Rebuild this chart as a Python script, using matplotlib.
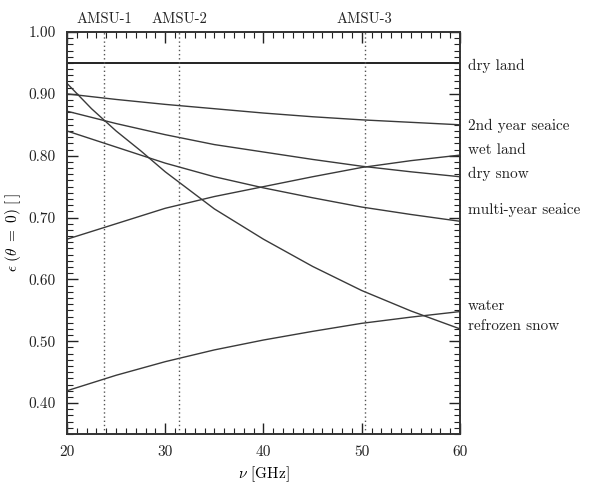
import matplotlib
matplotlib.use("Agg")
import matplotlib.pyplot as plt
from matplotlib.ticker import MultipleLocator
import matplotlib.transforms as mtransforms

# frequencies [GHz] and emissivities
freq = [20, 25, 30, 35, 40, 45, 50, 55, 60]
dry_land = [0.950, 0.950, 0.950, 0.950, 0.950, 0.950, 0.950, 0.950, 0.950]
seaice_2nd = [0.900, 0.891, 0.883, 0.876, 0.869, 0.863, 0.858, 0.854, 0.850]
wet_land = [0.665, 0.690, 0.715, 0.734, 0.750, 0.766, 0.781, 0.792, 0.801]
dry_snow = [0.872, 0.852, 0.834, 0.818, 0.806, 0.794, 0.783, 0.774, 0.766]
seaice_multi = [0.840, 0.814, 0.788, 0.766, 0.748, 0.732, 0.717, 0.705, 0.694]
water = [0.420, 0.445, 0.467, 0.486, 0.502, 0.516, 0.529, 0.539, 0.548]

# refrozen snow bends more, so read at a few extra points
freq_rs = [20, 22.5, 25, 27.5, 30, 35, 40, 45, 50, 55, 60]
refrozen_snow = [0.917, 0.876, 0.840, 0.808, 0.774, 0.714, 0.665, 0.621, 0.582, 0.549, 0.520]

names = ["dry land", "2nd year seaice", "wet land", "dry snow",
         "multi-year seaice", "water", "refrozen snow"]
label_pos = [0.945, 0.848, 0.809, 0.771, 0.712, 0.557, 0.525]

amsu_freq = [23.8, 31.4, 50.3]
amsu_names = ["AMSU-1", "AMSU-2", "AMSU-3"]

xticks = [20, 30, 40, 50, 60]
yticks = [0.40, 0.50, 0.60, 0.70, 0.80, 0.90, 1.00]

plt.rcParams["font.family"] = ["cmr10", "DejaVu Serif"]
plt.rcParams["mathtext.fontset"] = "cm"
plt.rcParams["axes.formatter.use_mathtext"] = True

fig = plt.figure(figsize=(5.97, 4.83), dpi=100)
ax = fig.add_axes([0.1122, 0.1014, 0.6583, 0.8323])

series = [(freq, dry_land), (freq, seaice_2nd), (freq, wet_land), (freq, dry_snow),
          (freq, seaice_multi), (freq, water), (freq_rs, refrozen_snow)]
for i, (x, s) in enumerate(series):
    if i == 0:
        ax.plot(x, s, color="#222222", lw=1.4)
    else:
        ax.plot(x, s, color="#3a3a3a", lw=1.0)
    ax.text(60.8, label_pos[i], names[i], fontsize=11, va="center", ha="left",
            color="#222222", clip_on=False)

trans = mtransforms.blended_transform_factory(ax.transData, ax.transAxes)
for f, n in zip(amsu_freq, amsu_names):
    ax.axvline(f, color="#555555", lw=1.0, ls=(0, (1, 2)))
    ax.text(f, 1.015, n, transform=trans, ha="center", va="bottom",
            fontsize=10.5, color="#222222")

ax.set_xlim(20, 60)
ax.set_ylim(0.35, 1.00)
ax.set_xticks(xticks)
ax.set_xticklabels([str(t) for t in xticks])
ax.xaxis.set_minor_locator(MultipleLocator(1))
ax.set_yticks(yticks)
ax.set_yticklabels(["%.2f" % t for t in yticks])
ax.yaxis.set_minor_locator(MultipleLocator(0.01))
ax.tick_params(which="both", direction="in", top=True, right=True,
               labelsize=11, colors="#222222")
ax.tick_params(which="major", length=8, width=1.0, pad=8)
ax.tick_params(which="minor", length=4, width=0.8)
for sp in ax.spines.values():
    sp.set_linewidth(1.4)
    sp.set_color("#333333")

ax.set_xlabel(r"$\nu$ [GHz]", fontsize=11)
ax.set_ylabel(r"$\epsilon\ (\theta\ =\ 0)\ [\,]$", fontsize=11)

fig.savefig("out.png", dpi=100)
